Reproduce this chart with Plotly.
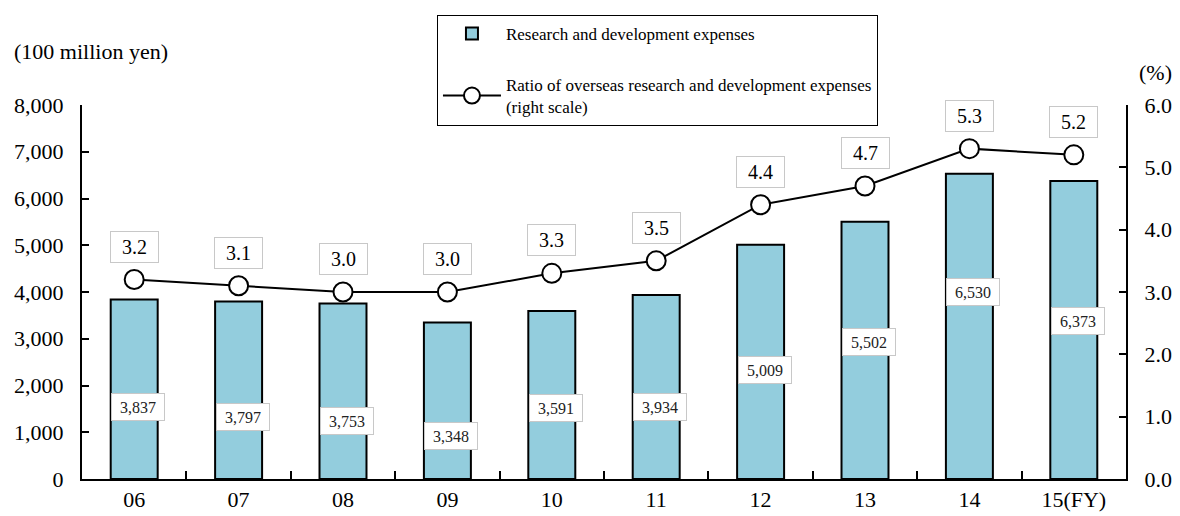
import plotly.graph_objects as go

categories = ["06", "07", "08", "09", "10", "11", "12", "13", "14", "15(FY)"]
rd_expenses = [3837, 3797, 3753, 3348, 3591, 3934, 5009, 5502, 6530, 6373]
overseas_ratio = [3.2, 3.1, 3.0, 3.0, 3.3, 3.5, 4.4, 4.7, 5.3, 5.2]
# vertical placement of the value boxes inside the bars (data units of left axis)
bar_label_pos = [1540, 1330, 1240, 920, 1520, 1540, 2330, 2930, 4000, 3380]

SERIF = "Liberation Serif, Times New Roman, serif"

fig = go.Figure()
fig.add_trace(go.Bar(
    x=categories, y=rd_expenses, name="Research and development expenses",
    marker=dict(color="#93CDDD", line=dict(color="black", width=2)),
    width=0.45, legendgroup="a", yaxis="y",
))
fig.add_trace(go.Scatter(
    x=categories, y=overseas_ratio,
    name="Ratio of overseas research and development expenses<br>(right scale)",
    mode="lines+markers", yaxis="y2", legendgroup="b",
    line=dict(color="black", width=2),
    marker=dict(size=19, color="white", line=dict(color="black", width=2)),
))

annotations = []
# category axis: annotation x given as category index
for i, (v, p) in enumerate(zip(rd_expenses, bar_label_pos)):
    annotations.append(dict(
        x=i, y=p, xref="x", yref="y", text=f"{v:,}", showarrow=False,
        xshift=4, font=dict(family=SERIF, size=16, color="#222"),
        bgcolor="white", bordercolor="#c8c8c8", borderwidth=1,
        width=46, height=20, borderpad=3,
    ))
for i, r in enumerate(overseas_ratio):
    annotations.append(dict(
        x=i, y=r, xref="x", yref="y2", text=f"{r:.1f}", showarrow=False,
        yshift=33, font=dict(family=SERIF, size=20, color="black"),
        bgcolor="white", bordercolor="#c8c8c8", borderwidth=1,
        width=41, height=24, borderpad=3,
    ))
annotations.append(dict(
    x=-0.067, y=1.142, xref="paper", yref="paper", text="(100 million yen)",
    showarrow=False, xanchor="left", yanchor="middle",
    font=dict(family=SERIF, size=22, color="black"),
))
annotations.append(dict(
    x=1.028, y=1.088, xref="paper", yref="paper", text="(%)",
    showarrow=False, xanchor="center", yanchor="middle",
    font=dict(family=SERIF, size=22, color="black"),
))

fig.update_layout(
    width=1172, height=508,
    margin=dict(l=74, r=54, t=97, b=37, autoexpand=False),
    plot_bgcolor="white", paper_bgcolor="white",
    font=dict(family=SERIF, size=22, color="black"),
    showlegend=True,
    legend=dict(
        x=0.340, y=1.241, xanchor="left", yanchor="top",
        bordercolor="black", borderwidth=1, bgcolor="white",
        font=dict(family=SERIF, size=17, color="black"),
        traceorder="grouped", tracegroupgap=26, itemwidth=58,
    ),
    xaxis=dict(
        type="category", showline=True, linecolor="black", linewidth=2,
        ticks="inside", ticklen=8, tickwidth=2, tickcolor="black",
        tickson="boundaries", showgrid=False, zeroline=False, tickangle=0,
        range=[-0.5, 9.5],
        tickfont=dict(family=SERIF, size=22, color="black"),
    ),
    yaxis=dict(
        range=[0, 8000], dtick=1000, tickformat=",",
        showline=True, linecolor="black", linewidth=2,
        ticks="inside", ticklen=7, tickwidth=2, tickcolor="black",
        showgrid=False, zeroline=False, ticklabelstandoff=12,
        tickfont=dict(family=SERIF, size=22, color="black"),
    ),
    yaxis2=dict(
        range=[0, 6], dtick=1, tickformat=".1f", overlaying="y", side="right",
        showline=True, linecolor="black", linewidth=2,
        ticks="inside", ticklen=7, tickwidth=2, tickcolor="black",
        showgrid=False, zeroline=False, ticklabelstandoff=12,
        tickfont=dict(family=SERIF, size=22, color="black"),
    ),
    annotations=annotations,
)

fig.write_html("out.html")
